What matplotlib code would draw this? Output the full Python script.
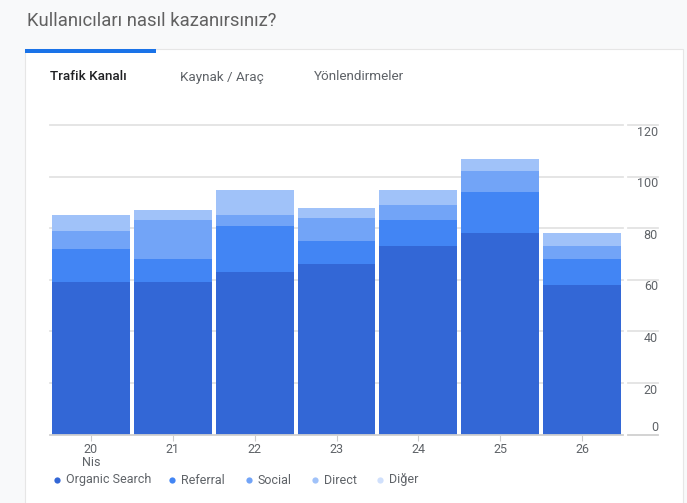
import matplotlib
matplotlib.use("Agg")
import matplotlib.pyplot as plt
from matplotlib.patches import Rectangle
from matplotlib.lines import Line2D
import matplotlib.transforms as mtransforms
import numpy as np

days = ["20\nNis", "21", "22", "23", "24", "25", "26"]
series_names = ["Organic Search", "Referral", "Social", "Direct", "Diğer"]
organic = [59, 59, 63, 66, 73, 78, 58]
referral = [13, 9, 18, 9, 10, 16, 10]
social = [7, 15, 4, 9, 6, 8, 5]
direct = [6, 4, 10, 4, 6, 5, 5]
diger = [0, 0, 0, 0, 0, 0, 0]
y_ticks = [0, 20, 40, 60, 80, 100, 120]
tabs = ["Trafik Kanalı", "Kaynak / Araç", "Yönlendirmeler"]
title = "Kullanıcıları nasıl kazanırsınız?"

colors = ["#3367d6", "#4285f4", "#72a4f7", "#a0c2f9", "#d0e0fc"]
plt.rcParams['font.family'] = ['Roboto', 'DejaVu Sans']

W, H = 687, 503
fig = plt.figure(figsize=(W / 100, H / 100), dpi=100)
fig.patch.set_facecolor("#f8f9fa")

def fx(px):
    return px / W

def fy(py):
    return (H - py) / H

# card
fig.patches.append(Rectangle((fx(25), -0.01), fx(683) - fx(25), fy(49) + 0.01, transform=fig.transFigure,
                             facecolor="white", edgecolor="#e6e6e6", linewidth=0.8, zorder=-5))
fig.patches.append(Rectangle((fx(25), fy(53)), fx(156) - fx(25), fy(49) - fy(53),
                             transform=fig.transFigure, facecolor="#1a73e8", edgecolor="none", zorder=-4))

fig.text(fx(27), fy(21), title, fontsize=13.3, color="#616161", va="center", ha="left")
tab_x = [50, 180, 314]
for i, (t, x) in enumerate(zip(tabs, tab_x)):
    fig.text(fx(x), fy(77), t, fontsize=9.7, va="center", ha="left",
             color="#202124" if i == 0 else "#5f6368",
             fontweight="medium" if i == 0 else "normal")

ax = fig.add_axes([fx(50), fy(434.7), fx(623) - fx(50), fy(125) - fy(434.7)])
ax.set_zorder(2)
ax.set_facecolor("none")
x = np.arange(len(days))
stack = [organic, referral, social, direct, diger]
bottom = np.zeros(len(days))
for vals, c, name in zip(stack, colors, series_names):
    ax.bar(x, vals, width=0.95, bottom=bottom, color=c, edgecolor="none", zorder=2, label=name)
    bottom += np.array(vals)

ax.set_xlim(-0.5, len(days) - 0.5)
ax.set_ylim(0, 120)
for s in ax.spines.values():
    s.set_visible(False)
ax.set_yticks([])
for v in y_ticks[1:]:
    ax.axhline(v, color="#e3e3e3", linewidth=1.3, zorder=1, clip_on=False)
ax.axhline(0, color="#d0d0d0", linewidth=1.3, zorder=3, clip_on=False)

trans = mtransforms.blended_transform_factory(ax.transAxes, ax.transData)
x0 = (628 - 50) / 573
x1 = (658 - 50) / 573
for v in y_ticks:
    ax.plot([x0, x1], [v, v], transform=trans, color="#e3e3e3" if v else "#d0d0d0",
            linewidth=1.3, clip_on=False)
    off = mtransforms.offset_copy(trans, fig=fig, x=0, y=(7 if v == 0 else -7) * 0.72, units="points")
    ax.text(x1, v, str(v), transform=off, ha="right", va="center", fontsize=9, color="#5f6368")

ax.set_xticks(x)
ax.set_xticklabels(days, fontsize=9, color="#5f6368", linespacing=0.95)
ax.tick_params(axis="x", length=4, color="#cccccc", pad=2)

# legend
for name, c, dx, tx in zip(series_names, colors, [57, 172, 249, 315, 380], [66, 181, 257, 324, 389]):
    fig.add_artist(Line2D([fx(dx)], [fy(480)], marker="o", markersize=4.5, color=c,
                          markeredgecolor="none", linestyle="none", transform=fig.transFigure))
    fig.text(fx(tx), fy(480), name, fontsize=9, color="#5f6368", va="center", ha="left")

fig.savefig("out.png", dpi=100, facecolor=fig.get_facecolor())
